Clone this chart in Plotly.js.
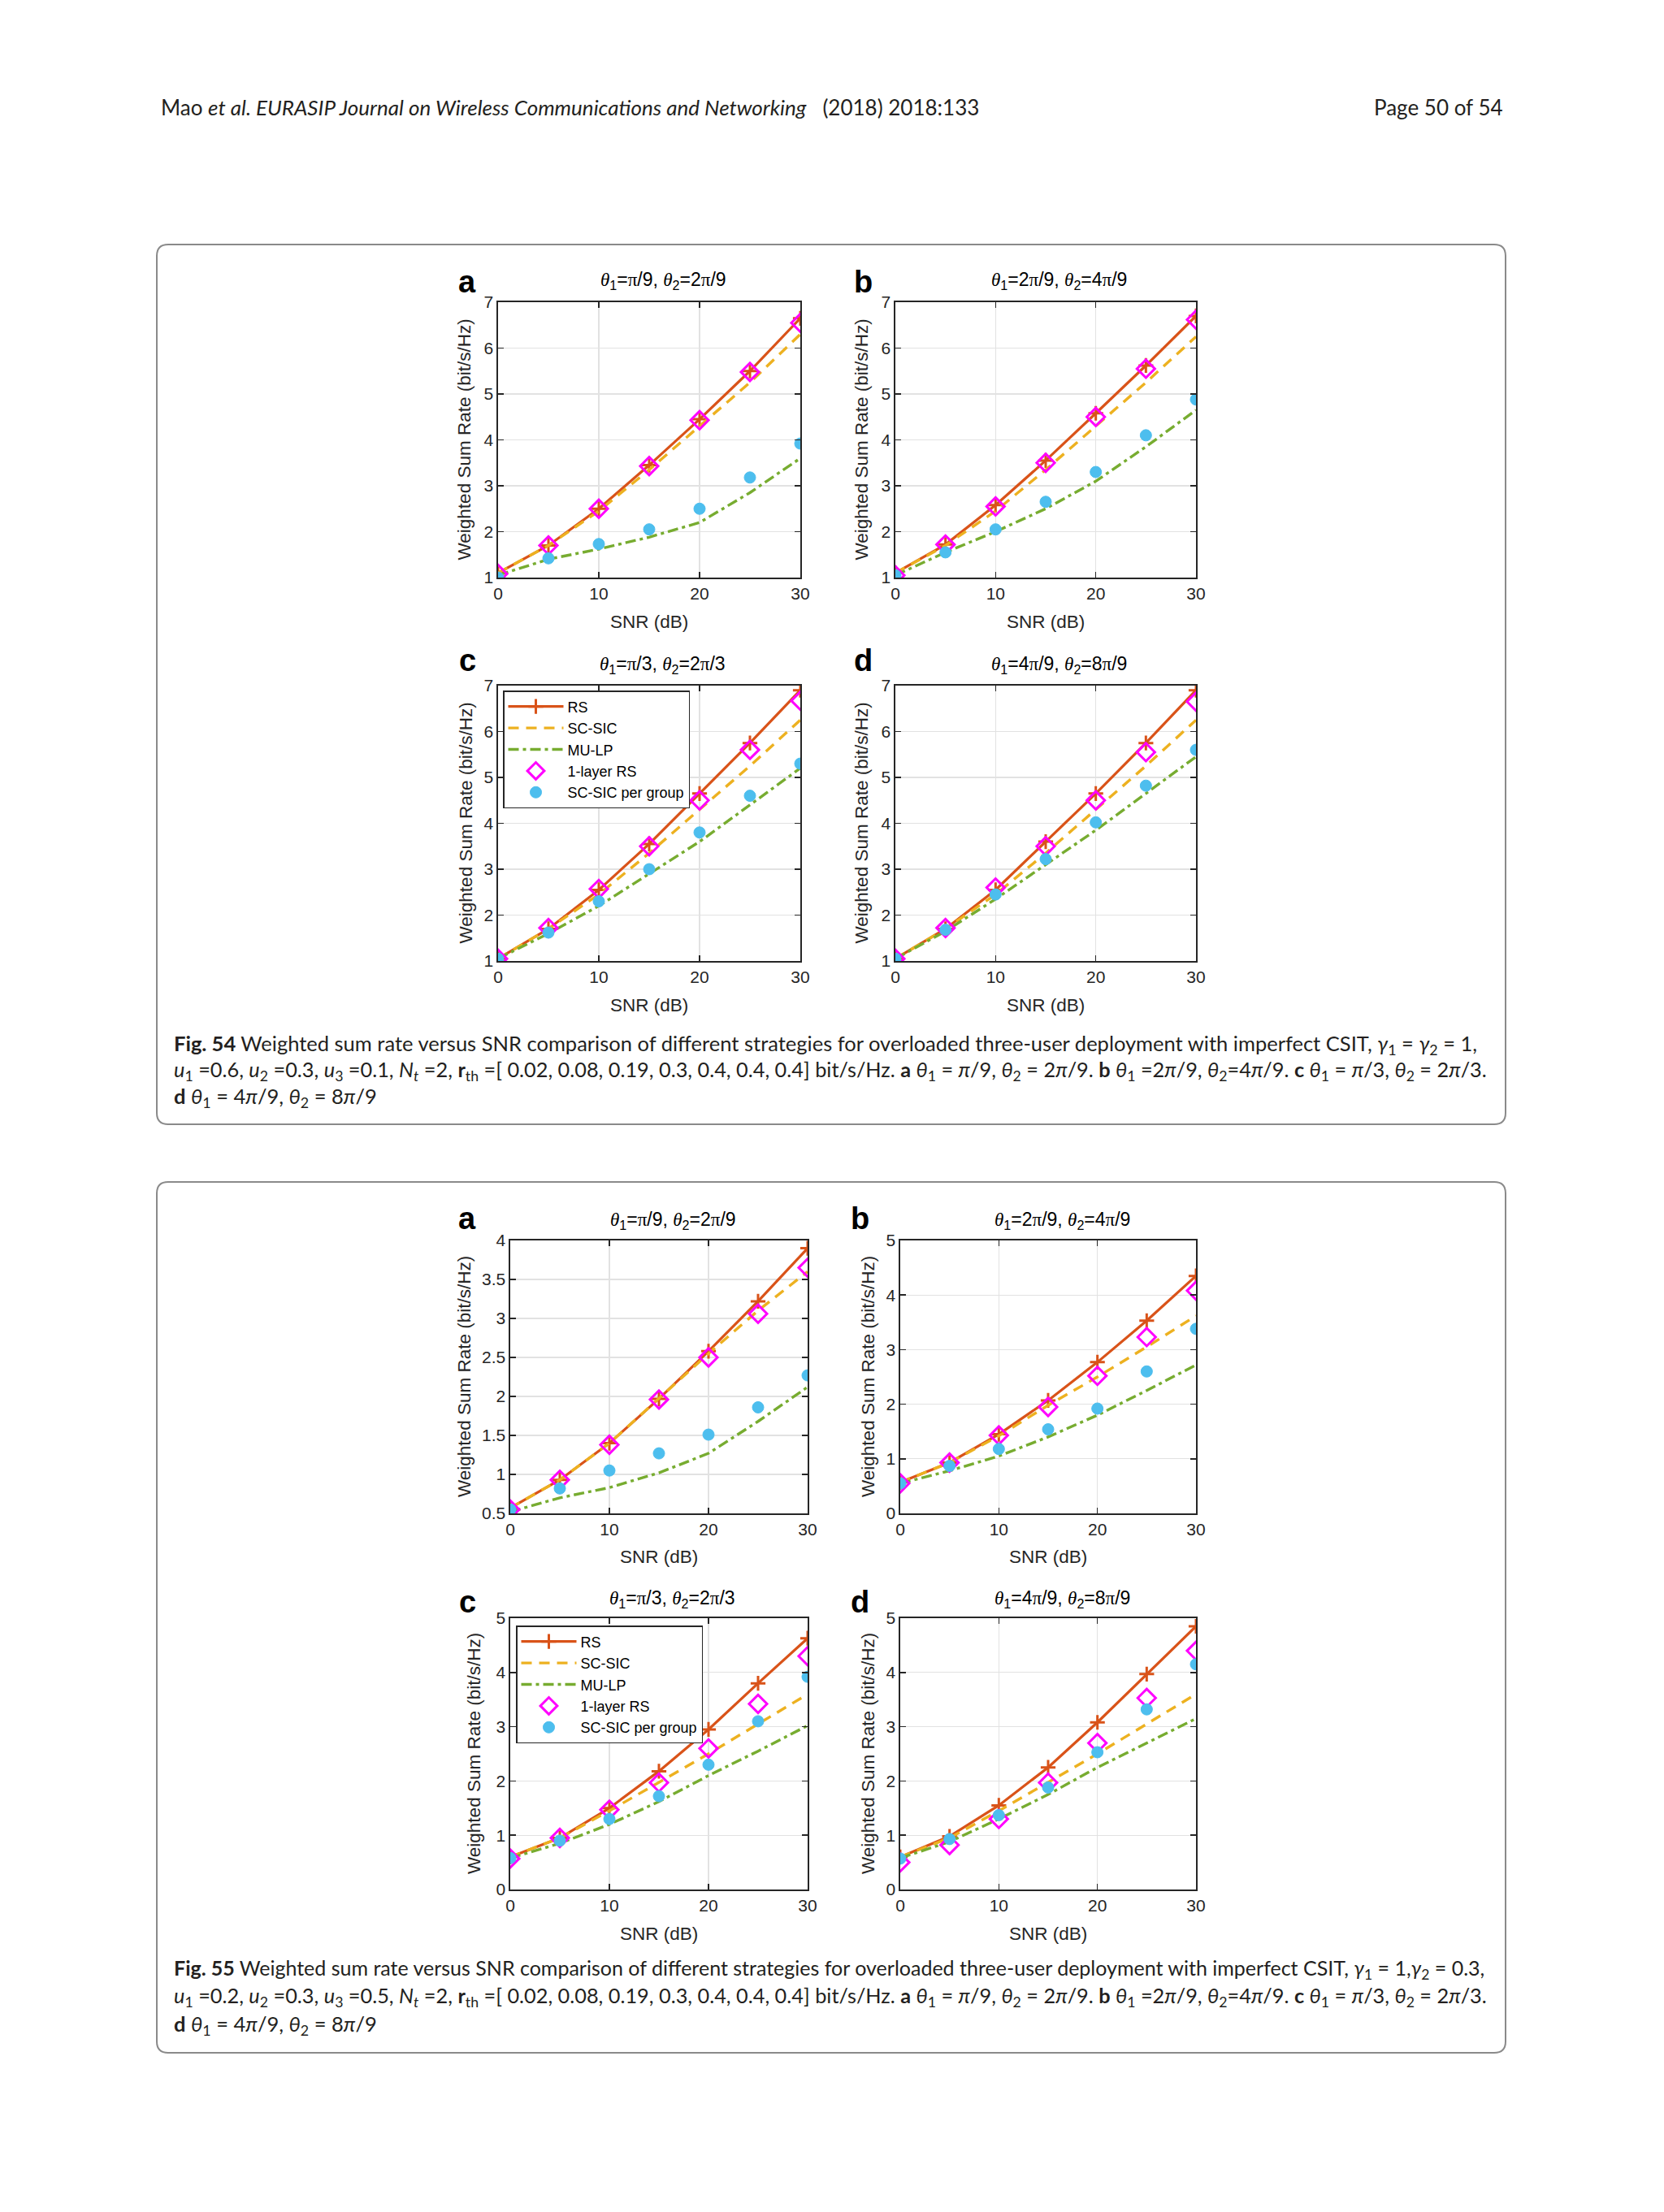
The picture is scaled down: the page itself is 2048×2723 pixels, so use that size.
<!DOCTYPE html>
<html>
<head>
<meta charset="utf-8">
<script src="https://cdn.plot.ly/plotly-3.0.1.min.js"></script>
<style>html,body{margin:0;padding:0;background:#fff;}#chart{width:2048px;height:2723px;}</style>
</head>
<body>
<div id="chart"></div>
<script>
// ---------------- DATA ----------------
const snr = [0, 5, 10, 15, 20, 25, 30];
const seriesNames = ["RS", "SC-SIC", "MU-LP", "1-layer RS", "SC-SIC per group"];
const xTicks = [0, 10, 20, 30];

// Fig. 54 (a)
const f54a_rs    = [1.10, 1.70, 2.50, 3.45, 4.45, 5.50, 6.65];
const f54a_scsic = [1.10, 1.70, 2.45, 3.35, 4.30, 5.25, 6.30];
const f54a_mulp  = [1.05, 1.40, 1.62, 1.88, 2.20, 2.85, 3.60];
const f54a_rs1   = [1.08, 1.70, 2.50, 3.43, 4.43, 5.48, 6.55];
const f54a_grp   = [1.00, 1.42, 1.73, 2.05, 2.50, 3.18, 3.92];
// Fig. 54 (b)
const f54b_rs    = [1.10, 1.72, 2.58, 3.55, 4.58, 5.62, 6.70];
const f54b_scsic = [1.10, 1.70, 2.45, 3.35, 4.30, 5.25, 6.25];
const f54b_mulp  = [1.05, 1.55, 2.00, 2.50, 3.10, 3.85, 4.65];
const f54b_rs1   = [1.05, 1.72, 2.55, 3.50, 4.50, 5.55, 6.62];
const f54b_grp   = [1.05, 1.55, 2.05, 2.65, 3.30, 4.10, 4.88];
// Fig. 54 (c)
const f54c_rs    = [1.05, 1.70, 2.55, 3.55, 4.65, 5.75, 6.90];
const f54c_scsic = [1.05, 1.70, 2.45, 3.35, 4.30, 5.25, 6.25];
const f54c_mulp  = [1.05, 1.60, 2.20, 2.90, 3.60, 4.40, 5.20];
const f54c_rs1   = [1.05, 1.72, 2.57, 3.50, 4.50, 5.60, 6.67];
const f54c_grp   = [1.05, 1.62, 2.30, 3.00, 3.80, 4.60, 5.30];
// Fig. 54 (d)
const f54d_rs    = [1.05, 1.70, 2.55, 3.60, 4.65, 5.75, 6.90];
const f54d_scsic = [1.05, 1.70, 2.45, 3.35, 4.30, 5.25, 6.25];
const f54d_mulp  = [1.05, 1.65, 2.35, 3.10, 3.85, 4.65, 5.45];
const f54d_rs1   = [1.05, 1.72, 2.60, 3.50, 4.50, 5.55, 6.65];
const f54d_grp   = [1.05, 1.68, 2.45, 3.22, 4.02, 4.82, 5.60];
// Fig. 55 (a)
const f55a_rs    = [0.57, 0.93, 1.40, 1.97, 2.58, 3.22, 3.90];
const f55a_scsic = [0.57, 0.93, 1.40, 1.97, 2.55, 3.10, 3.60];
const f55a_mulp  = [0.52, 0.70, 0.83, 1.02, 1.27, 1.68, 2.12];
const f55a_rs1   = [0.55, 0.93, 1.38, 1.96, 2.50, 3.06, 3.65];
const f55a_grp   = [0.55, 0.82, 1.05, 1.27, 1.51, 1.86, 2.27];
// Fig. 55 (b)
const f55b_rs    = [0.57, 0.93, 1.45, 2.07, 2.77, 3.53, 4.35];
const f55b_scsic = [0.57, 0.93, 1.42, 1.98, 2.50, 3.05, 3.62];
const f55b_mulp  = [0.55, 0.78, 1.05, 1.40, 1.80, 2.25, 2.72];
const f55b_rs1   = [0.55, 0.93, 1.43, 1.95, 2.52, 3.23, 4.08];
const f55b_grp   = [0.55, 0.87, 1.18, 1.54, 1.92, 2.60, 3.38];
// Fig. 55 (c)
const f55c_rs    = [0.60, 0.95, 1.50, 2.18, 2.95, 3.80, 4.63];
const f55c_scsic = [0.60, 0.95, 1.45, 1.97, 2.50, 3.05, 3.60];
const f55c_mulp  = [0.58, 0.85, 1.20, 1.62, 2.10, 2.55, 3.02];
const f55c_rs1   = [0.57, 0.95, 1.47, 1.97, 2.60, 3.42, 4.30];
const f55c_grp   = [0.58, 0.90, 1.30, 1.72, 2.30, 3.10, 3.92];
// Fig. 55 (d)
const f55d_rs    = [0.60, 0.98, 1.55, 2.25, 3.08, 3.97, 4.85];
const f55d_scsic = [0.60, 0.95, 1.45, 1.97, 2.50, 3.05, 3.60];
const f55d_mulp  = [0.58, 0.88, 1.30, 1.75, 2.25, 2.70, 3.15];
const f55d_rs1   = [0.50, 0.82, 1.30, 1.97, 2.70, 3.53, 4.40];
const f55d_grp   = [0.57, 0.93, 1.37, 1.88, 2.53, 3.32, 4.15];

// ---------------- LAYOUT HELPERS ----------------
const W = 2048, H = 2723;
const X = px => px / W;
const Y = py => 1 - py / H;

const TH = '<span style="font-family:\'Liberation Serif\',serif"><i>θ</i></span>';
const PI = '<span style="font-family:\'Liberation Serif\',serif">π</span>';

const panels = [
  {id:'54a', s:[f54a_rs,f54a_scsic,f54a_mulp,f54a_rs1,f54a_grp], box:[613,985,372,711], yr:[1,7], dt:1,
   lab:'a', labXY:[575,347], title:TH+'<sub>1</sub>='+PI+'/9, '+TH+'<sub>2</sub>=2'+PI+'/9', tXY:[816,345], ytx:571, xty:765},
  {id:'54b', s:[f54b_rs,f54b_scsic,f54b_mulp,f54b_rs1,f54b_grp], box:[1102,1472,372,711], yr:[1,7], dt:1,
   lab:'b', labXY:[1062,347], title:TH+'<sub>1</sub>=2'+PI+'/9, '+TH+'<sub>2</sub>=4'+PI+'/9', tXY:[1303,345], ytx:1060, xty:765},
  {id:'54c', s:[f54c_rs,f54c_scsic,f54c_mulp,f54c_rs1,f54c_grp], box:[613,985,844,1183], yr:[1,7], dt:1,
   lab:'c', labXY:[575,813], title:TH+'<sub>1</sub>='+PI+'/3, '+TH+'<sub>2</sub>=2'+PI+'/3', tXY:[815,819], ytx:573, xty:1237, legend:'legend'},
  {id:'54d', s:[f54d_rs,f54d_scsic,f54d_mulp,f54d_rs1,f54d_grp], box:[1102,1472,844,1183], yr:[1,7], dt:1,
   lab:'d', labXY:[1062,813], title:TH+'<sub>1</sub>=4'+PI+'/9, '+TH+'<sub>2</sub>=8'+PI+'/9', tXY:[1303,819], ytx:1060, xty:1237},
  {id:'55a', s:[f55a_rs,f55a_scsic,f55a_mulp,f55a_rs1,f55a_grp], box:[628,994,1527,1863], yr:[0.5,4], dt:0.5,
   lab:'a', labXY:[575,1500], title:TH+'<sub>1</sub>='+PI+'/9, '+TH+'<sub>2</sub>=2'+PI+'/9', tXY:[828,1502], ytx:571, xty:1916},
  {id:'55b', s:[f55b_rs,f55b_scsic,f55b_mulp,f55b_rs1,f55b_grp], box:[1108,1472,1527,1863], yr:[0,5], dt:1,
   lab:'b', labXY:[1058,1500], title:TH+'<sub>1</sub>=2'+PI+'/9, '+TH+'<sub>2</sub>=4'+PI+'/9', tXY:[1307,1502], ytx:1068, xty:1916},
  {id:'55c', s:[f55c_rs,f55c_scsic,f55c_mulp,f55c_rs1,f55c_grp], box:[628,994,1992,2326], yr:[0,5], dt:1,
   lab:'c', labXY:[575,1972], title:TH+'<sub>1</sub>='+PI+'/3, '+TH+'<sub>2</sub>=2'+PI+'/3', tXY:[827,1968], ytx:583, xty:2380, legend:'legend2'},
  {id:'55d', s:[f55d_rs,f55d_scsic,f55d_mulp,f55d_rs1,f55d_grp], box:[1108,1472,1992,2326], yr:[0,5], dt:1,
   lab:'d', labXY:[1058,1972], title:TH+'<sub>1</sub>=4'+PI+'/9, '+TH+'<sub>2</sub>=8'+PI+'/9', tXY:[1307,1968], ytx:1068, xty:2380}
];

const C_RS = '#D95319', C_SC = '#EDB120', C_MU = '#77AC30', C_R1 = '#FF00FF', C_GP = '#4DBEEE';
const AXC = '#262626';
const TFONT = "Liberation Sans, Arial, Helvetica, sans-serif";

const traces = [];
const layout = {
  width: W, height: H,
  margin: {l:0, r:0, t:0, b:0, pad:0},
  paper_bgcolor: '#fff', plot_bgcolor: '#fff',
  font: {family: TFONT, size: 21, color: AXC},
  showlegend: true,
  annotations: [], shapes: []
};

const legendStyle = (x, y) => ({
  x: X(x), y: Y(y), xanchor:'left', yanchor:'top', xref:'paper', yref:'paper',
  bgcolor:'#fff', bordercolor: AXC, borderwidth: 1.5,
  font:{family:TFONT, size:18, color:'#000'}, itemwidth: 68, tracegroupgap: 0,
  traceorder:'normal', itemclick:false, itemdoubleclick:false
});
layout.legend = legendStyle(619, 850);
layout.legend2 = legendStyle(635, 2001);

panels.forEach((p, i) => {
  const n = i + 1;
  const xa = 'x' + (n === 1 ? '' : n), ya = 'y' + (n === 1 ? '' : n);
  const xk = 'xaxis' + (n === 1 ? '' : n), yk = 'yaxis' + (n === 1 ? '' : n);
  const [l, r, t, b] = p.box;
  const common = {
    showgrid:true, gridcolor:'#e2e2e2', gridwidth:1.3,
    showline:true, linecolor:AXC, linewidth:1.6, mirror:'ticks',
    ticks:'inside', ticklen:7, tickwidth:1.4, tickcolor:AXC,
    tickfont:{family:TFONT, size:21, color:AXC}, zeroline:false, fixedrange:true
  };
  layout[xk] = Object.assign({}, common, {domain:[X(l), X(r)], range:[0,30], tickmode:'array', tickvals:xTicks, anchor:ya});
  layout[yk] = Object.assign({}, common, {domain:[Y(b), Y(t)], range:p.yr, dtick:p.dt, tick0:0, anchor:xa});

  const show = !!p.legend;
  const lg = p.legend || 'legend';
  traces.push({x:snr, y:p.s[0], xaxis:xa, yaxis:ya, name:seriesNames[0], mode:'lines+markers', legend:lg, showlegend:show,
    line:{color:C_RS, width:3.2}, marker:{symbol:'cross-thin-open', size:13, line:{color:C_RS, width:3}}});
  traces.push({x:snr, y:p.s[1], xaxis:xa, yaxis:ya, name:seriesNames[1], mode:'lines', legend:lg, showlegend:show,
    line:{color:C_SC, width:3.4, dash:'13px,9px'}});
  traces.push({x:snr, y:p.s[2], xaxis:xa, yaxis:ya, name:seriesNames[2], mode:'lines', legend:lg, showlegend:show,
    line:{color:C_MU, width:3.4, dash:'13px,5px,4px,5px'}});
  traces.push({x:snr, y:p.s[3], xaxis:xa, yaxis:ya, name:seriesNames[3], mode:'markers', legend:lg, showlegend:show,
    marker:{symbol:'diamond-open', size:17, color:C_R1, line:{color:C_R1, width:3}}});
  traces.push({x:snr, y:p.s[4], xaxis:xa, yaxis:ya, name:seriesNames[4], mode:'markers', legend:lg, showlegend:show,
    marker:{symbol:'circle', size:14, color:C_GP, line:{color:C_GP, width:1}}});

  // panel letter
  layout.annotations.push({xref:'paper', yref:'paper', x:X(p.labXY[0]), y:Y(p.labXY[1]), xanchor:'center', yanchor:'middle',
    text:'<b>'+p.lab+'</b>', showarrow:false, font:{family:TFONT, size:38, color:'#000'}});
  // subplot title
  layout.annotations.push({xref:'paper', yref:'paper', x:X(p.tXY[0]), y:Y(p.tXY[1]), xanchor:'center', yanchor:'middle',
    text:p.title, showarrow:false, font:{family:TFONT, size:23, color:'#000'}});
  // y axis title
  layout.annotations.push({xref:'paper', yref:'paper', x:X(p.ytx), y:Y((t+b)/2), xanchor:'center', yanchor:'middle',
    text:'Weighted Sum Rate (bit/s/Hz)', textangle:-90, showarrow:false, font:{family:TFONT, size:22.5, color:AXC}});
  // x axis title
  layout.annotations.push({xref:'paper', yref:'paper', x:X((l+r)/2), y:Y(p.xty), xanchor:'center', yanchor:'middle',
    text:'SNR (dB)', showarrow:false, font:{family:TFONT, size:22.5, color:AXC}});
});

// frames with rounded corners
function roundRect(x0, y0, x1, y1, rad) {
  const a = X(x0), b = X(x1), c = Y(y0), d = Y(y1);
  const rx = rad / W, ry = rad / H;
  return `M ${a+rx},${c} L ${b-rx},${c} Q ${b},${c} ${b},${c-ry} L ${b},${d+ry} Q ${b},${d} ${b-rx},${d} ` +
         `L ${a+rx},${d} Q ${a},${d} ${a},${d+ry} L ${a},${c-ry} Q ${a},${c} ${a+rx},${c} Z`;
}
layout.shapes.push({type:'path', xref:'paper', yref:'paper', path:roundRect(193,301,1853,1384,14), line:{color:'#8a8a8a', width:2}, layer:'below'});
layout.shapes.push({type:'path', xref:'paper', yref:'paper', path:roundRect(193,1455,1853,2527,14), line:{color:'#8a8a8a', width:2}, layer:'below'});

// header and captions
const PF = "Lato, 'Open Sans', sans-serif";
function txt(x, y, s, size, anchor) {
  layout.annotations.push({xref:'paper', yref:'paper', x:X(x), y:Y(y), xanchor:anchor||'left', yanchor:'middle',
    text:s, showarrow:false, align:'left', font:{family:PF, size:size, color:'#231f20'}});
}
txt(196, 132, 'Mao <i>et al. EURASIP Journal on Wireless Communications and Networking</i>   (2018) 2018:133', 26);
txt(1852, 132, 'Page 50 of 54', 26, 'right');

const iv = v => '<i>' + v + '</i>';
const th = '<i>θ</i>', pi = '<i>π</i>';
const line2 = (u1,u2,u3) => iv('u')+'<sub>1</sub> =' + u1 + ', ' + iv('u')+'<sub>2</sub> =' + u2 + ', ' + iv('u')+'<sub>3</sub> =' + u3 +
  ', ' + iv('N')+'<sub><i>t</i></sub> =2, <b>r</b><sub>th</sub> =[ 0.02, 0.08, 0.19, 0.3, 0.4, 0.4, 0.4] bit/s/Hz. ' +
  '<b>a</b> '+th+'<sub>1</sub> = '+pi+'/9, '+th+'<sub>2</sub> = 2'+pi+'/9. <b>b</b> '+th+'<sub>1</sub> =2'+pi+'/9, '+th+'<sub>2</sub>=4'+pi+'/9. ' +
  '<b>c</b> '+th+'<sub>1</sub> = '+pi+'/3, '+th+'<sub>2</sub> = 2'+pi+'/3.';
const line3 = '<b>d</b> '+th+'<sub>1</sub> = 4'+pi+'/9, '+th+'<sub>2</sub> = 8'+pi+'/9';
const head = '<b>Fig. %N</b> Weighted sum rate versus SNR comparison of different strategies for overloaded three-user deployment with imperfect CSIT, ';

txt(212, 1286, head.replace('%N','54') + '<i>γ</i><sub>1</sub> = <i>γ</i><sub>2</sub> = 1,', 25.5);
txt(212, 1318, line2('0.6','0.3','0.1'), 25.3);
txt(212, 1351, line3, 25.5);
txt(212, 2424, head.replace('%N','55') + '<i>γ</i><sub>1</sub> = 1,<i>γ</i><sub>2</sub> = 0.3,', 25);
txt(212, 2458, line2('0.2','0.3','0.5'), 25.3);
txt(212, 2493, line3, 25.5);

Plotly.newPlot('chart', traces, layout, {staticPlot:true, displayModeBar:false});
</script>
</body>
</html>
